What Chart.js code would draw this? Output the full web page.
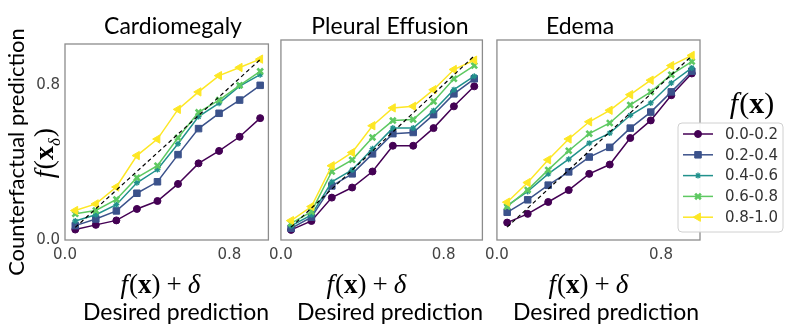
<!DOCTYPE html>
<html>
<head>
<meta charset="utf-8">
<script src="https://cdn.jsdelivr.net/npm/chart.js@4.4.1/dist/chart.umd.min.js"></script>
<style>
  body { margin: 0; background: #fff; width: 789px; height: 324px; position: relative; overflow: hidden; }
  canvas { position: absolute; }
  .lbl { position: absolute; font-family: Lato, sans-serif; color: #000; white-space: nowrap; transform: translate(-50%, -50%); }
  .math { position: absolute; font-family: 'Liberation Serif', serif; color: #000; white-space: nowrap; transform: translate(-50%, -50%); }
  .math b { font-weight: bold; font-style: normal; }
  .math i { margin-right: 1px; }
  .op { margin: 0 6px; }
  .rot { transform: translate(-50%, -50%) rotate(-90deg); }
</style>
</head>
<body>
<canvas id="p1" width="255" height="240" style="left:20px;top:30px"></canvas>
<canvas id="p2" width="226" height="240" style="left:263px;top:30px"></canvas>
<canvas id="p3" width="310" height="240" style="left:479px;top:30px"></canvas>

<div class="lbl" style="left:173px;top:25px;font-size:23px">Cardiomegaly</div>
<div class="lbl" style="left:390px;top:25px;font-size:23px">Pleural Effusion</div>
<div class="lbl" style="left:580px;top:25px;font-size:23px">Edema</div>

<div class="lbl rot" style="left:15px;top:152px;font-size:22px">Counterfactual prediction</div>
<div class="math rot" style="left:46px;top:153px;font-size:28px"><i>f</i>(<b>x</b><sub style="font-size:17px"><i>δ</i></sub>)</div>

<div class="math" style="left:161px;top:284px;font-size:27px"><i>f</i>(<b>x</b>)<span class="op">+</span><i>δ</i></div>
<div class="math" style="left:367px;top:284px;font-size:27px"><i>f</i>(<b>x</b>)<span class="op">+</span><i>δ</i></div>
<div class="math" style="left:589px;top:284px;font-size:27px"><i>f</i>(<b>x</b>)<span class="op">+</span><i>δ</i></div>

<div class="lbl" style="left:176px;top:311px;font-size:23px">Desired prediction</div>
<div class="lbl" style="left:390px;top:311px;font-size:23px">Desired prediction</div>
<div class="lbl" style="left:606px;top:311px;font-size:23px">Desired prediction</div>

<div class="math" style="left:752px;top:103px;font-size:30px"><i>f</i>(<b>x</b>)</div>

<script>
// bin centres of the desired prediction
const xs = [0.05, 0.15, 0.25, 0.35, 0.45, 0.55, 0.65, 0.75, 0.85, 0.95];
const xTicks = [0.0, 0.8];
const yTicks = [0.0, 0.8];

// reference line
const diagX = [0.05, 0.95];
const diagY = [0.065, 0.93];

const binLabels = ['0.0-0.2', '0.2-0.4', '0.4-0.6', '0.6-0.8', '0.8-1.0'];
const binColors = ['#440154', '#3b528b', '#21918c', '#5ec962', '#fde725'];

// Cardiomegaly
const cardio1 = [0.054, 0.078, 0.101, 0.160, 0.201, 0.289, 0.395, 0.459, 0.532, 0.628];
const cardio2 = [0.074, 0.108, 0.150, 0.241, 0.300, 0.440, 0.574, 0.653, 0.721, 0.797];
const cardio3 = [0.098, 0.130, 0.182, 0.295, 0.363, 0.496, 0.636, 0.705, 0.793, 0.852];
const cardio4 = [0.135, 0.152, 0.209, 0.321, 0.383, 0.527, 0.658, 0.721, 0.797, 0.869];
const cardio5 = [0.152, 0.186, 0.273, 0.435, 0.520, 0.673, 0.763, 0.847, 0.889, 0.932];

// Pleural Effusion
const pleural1 = [0.051, 0.096, 0.214, 0.265, 0.346, 0.476, 0.476, 0.565, 0.675, 0.776];
const pleural2 = [0.059, 0.115, 0.273, 0.334, 0.435, 0.537, 0.543, 0.633, 0.738, 0.814];
const pleural3 = [0.071, 0.127, 0.294, 0.354, 0.461, 0.565, 0.565, 0.653, 0.759, 0.827];
const pleural4 = [0.084, 0.143, 0.346, 0.405, 0.518, 0.603, 0.608, 0.700, 0.814, 0.881];
const pleural5 = [0.098, 0.169, 0.375, 0.442, 0.577, 0.667, 0.675, 0.759, 0.861, 0.908];

// Edema
const edema1 = [0.088, 0.132, 0.192, 0.252, 0.334, 0.381, 0.515, 0.604, 0.731, 0.841];
const edema2 = [0.140, 0.203, 0.277, 0.344, 0.419, 0.468, 0.565, 0.646, 0.748, 0.852];
const edema3 = [0.174, 0.245, 0.334, 0.408, 0.489, 0.540, 0.630, 0.692, 0.793, 0.869];
const edema4 = [0.169, 0.253, 0.354, 0.451, 0.537, 0.591, 0.682, 0.748, 0.835, 0.901];
const edema5 = [0.191, 0.290, 0.405, 0.510, 0.597, 0.655, 0.734, 0.807, 0.881, 0.932];

// marker per bin (matplotlib o, s, *, X, <)
const markers = [
    { pointStyle: 'circle',   radius: 3.5, rotation: 0,   borderWidth: 1 },
    { pointStyle: 'rect',     radius: 4.6, rotation: 0,   borderWidth: 1 },
    { pointStyle: 'star',     radius: 3,   rotation: 0,   borderWidth: 1.3 },
    { pointStyle: 'crossRot', radius: 4,   rotation: 0,   borderWidth: 2.6 },
    { pointStyle: 'triangle', radius: 4.8, rotation: -90, borderWidth: 1 }
];

const tickFont = { family: 'DejaVu Sans', size: 15 };
const tickColor = '#444';

const framePlugin = {
    id: 'frame',
    afterDraw(chart) {
        const { ctx, chartArea: a } = chart;
        ctx.save();
        ctx.strokeStyle = '#8c8c8c';
        ctx.lineWidth = 1.3;
        ctx.strokeRect(a.left, a.top, a.right - a.left, a.bottom - a.top);
        ctx.restore();
    }
};

const legendPlugin = {
    id: 'binLegend',
    afterDraw(chart) {
        const { ctx, chartArea: a } = chart;
        const left = a.right - 22, top = a.top + 83, w = 105, h = 109;
        ctx.save();
        ctx.beginPath();
        ctx.roundRect(left, top, w, h, 4);
        ctx.fillStyle = 'rgba(255,255,255,0.95)';
        ctx.fill();
        ctx.strokeStyle = '#d0d0d0';
        ctx.lineWidth = 1;
        ctx.stroke();
        binLabels.forEach((lab, i) => {
            const y = top + 11 + i * 20.8;
            ctx.strokeStyle = binColors[i];
            ctx.fillStyle = binColors[i];
            ctx.lineWidth = 1.5;
            ctx.beginPath();
            ctx.moveTo(left + 5, y);
            ctx.lineTo(left + 35, y);
            ctx.stroke();
            ctx.lineWidth = markers[i].borderWidth;
            Chart.helpers.drawPoint(ctx, markers[i], left + 20, y);
            ctx.fillStyle = '#333';
            ctx.font = '15px "DejaVu Sans"';
            ctx.textBaseline = 'middle';
            ctx.fillText(lab, left + 47, y + 1);
        });
        ctx.restore();
    }
};

function makePanel(id, series, showY, yWidth, rightPad, extraPlugins) {
    const datasets = [{
        data: diagX.map((x, i) => ({ x, y: diagY[i] })),
        borderColor: '#000',
        borderWidth: 1.2,
        borderDash: [4, 3],
        pointRadius: 0,
        order: 0
    }];
    series.forEach((vals, i) => {
        datasets.push({
            label: binLabels[i],
            data: xs.map((x, j) => ({ x, y: vals[j] })),
            borderColor: binColors[i],
            backgroundColor: binColors[i],
            borderWidth: 1.5,
            pointStyle: markers[i].pointStyle,
            pointRadius: markers[i].radius,
            pointRotation: markers[i].rotation,
            pointBorderWidth: markers[i].borderWidth,
            pointBackgroundColor: binColors[i],
            pointBorderColor: binColors[i],
            tension: 0,
            order: 5 - i
        });
    });

    new Chart(document.getElementById(id), {
        type: 'line',
        data: { datasets },
        options: {
            responsive: false,
            animation: false,
            layout: { padding: { top: 10, right: rightPad, left: 0, bottom: 0 } },
            plugins: { legend: { display: false }, tooltip: { enabled: false } },
            scales: {
                x: {
                    type: 'linear',
                    min: 0,
                    max: 0.99,
                    grid: { display: false, drawTicks: false },
                    border: { display: false },
                    ticks: {
                        font: tickFont,
                        color: tickColor,
                        padding: 6,
                        maxRotation: 0,
                        callback: v => v.toFixed(1)
                    },
                    afterBuildTicks: s => { s.ticks = xTicks.map(v => ({ value: v })); },
                    afterFit: s => { s.height = 30; }
                },
                y: {
                    min: 0,
                    max: 1.01,
                    grid: { display: false, drawTicks: false },
                    border: { display: false },
                    ticks: {
                        display: showY,
                        font: tickFont,
                        color: tickColor,
                        padding: 5,
                        callback: v => v.toFixed(1)
                    },
                    afterBuildTicks: s => { s.ticks = yTicks.map(v => ({ value: v })); },
                    afterFit: s => { s.width = yWidth; }
                }
            }
        },
        plugins: [framePlugin, ...extraPlugins]
    });
}

makePanel('p1', [cardio1, cardio2, cardio3, cardio4, cardio5], true, 45, 5, []);
makePanel('p2', [pleural1, pleural2, pleural3, pleural4, pleural5], false, 15, 5, []);
makePanel('p3', [edema1, edema2, edema3, edema4, edema5], false, 15, 89, [legendPlugin]);
</script>
</body>
</html>
